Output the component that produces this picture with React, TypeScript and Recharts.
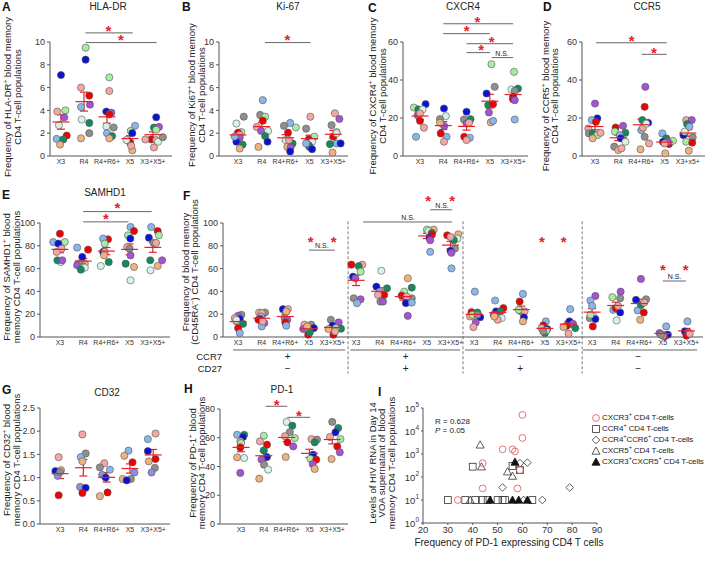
import React from 'react';
import { ScatterChart, Scatter, XAxis, YAxis, ErrorBar, ReferenceLine, ReferenceDot, Legend } from 'recharts';

// [category index, horizontal jitter, value, donor colour key]
type Pt = [number, number, number, string];

const CATS = ['X3', 'R4', 'R4+R6+', 'X5', 'X3+X5+'];
const CATS_D = ['X3', 'R4', 'R4+R6+', 'X5', 'X3+x5+'];
const CATS_F = [...CATS, ...CATS, ...CATS, ...CATS];

const HLA_DR: Pt[] = [
  [0, 0, 7.1, 'bl'], [0, -0.16, 3.9, 'pk'], [0, 0.19, 4.0, 'lg'], [0, 0.14, 3.4, 'pu'], [0, -0.09, 2.7, 'mt'],
  [0, 0.25, 1.8, 'rd'], [0, -0.19, 1.5, 'lb'], [0, 0.1, 1.45, 'dg'], [0, -0.04, 1.0, 'tn'],
  [1, 0.07, 9.5, 'lg'], [1, 0.07, 8.45, 'bl'], [1, -0.13, 6.0, 'pk'], [1, 0.23, 5.3, 'rd'], [1, -0.13, 4.3, 'lb'],
  [1, 0.26, 4.5, 'pu'], [1, -0.1, 3.2, 'mt'], [1, 0.23, 2.9, 'dg'], [1, -0.13, 1.55, 'tn'], [1, 0.23, 2.0, 'gy'],
  [2, 0.1, 6.9, 'lg'], [2, 0.1, 5.7, 'pk'], [2, -0.03, 3.9, 'bl'], [2, 0.19, 3.8, 'pu'], [2, 0.1, 3.65, 'rd'],
  [2, -0.03, 2.6, 'mt'], [2, 0.29, 2.5, 'gy'], [2, 0, 2.0, 'lb'], [2, 0.22, 1.75, 'dg'], [2, 0.1, 1.55, 'tn'],
  [3, 0.22, 2.65, 'lb'], [3, 0.03, 2.2, 'lg'], [3, 0.1, 2.0, 'bl'], [3, -0.12, 1.4, 'pk'], [3, 0, 1.2, 'rd'],
  [3, -0.15, 1.4, 'mt'], [3, 0.1, 0.5, 'tn'], [3, 0.05, 0.9, 'pk'],
  [4, 0.14, 3.4, 'bl'], [4, 0.04, 2.5, 'dg'], [4, 0.26, 2.55, 'pu'], [4, 0.14, 2.3, 'lg'], [4, -0.07, 1.45, 'rd'],
  [4, 0.14, 1.4, 'pk'], [4, 0.22, 1.25, 'mt'], [4, 0.43, 1.65, 'gy'], [4, -0.33, 1.45, 'pk'], [4, 0.04, 0.75, 'pk'],
];

const KI67: Pt[] = [
  [0, 0.24, 3.45, 'gy'], [0, -0.07, 2.85, 'mt'], [0, 0.14, 2.1, 'lg'], [0, 0, 2.05, 'rd'], [0, 0.07, 1.85, 'pk'],
  [0, 0.07, 1.6, 'pu'], [0, -0.07, 1.25, 'bl'], [0, 0.19, 1.0, 'dg'], [0, 0.07, 0.65, 'tn'], [0, -0.14, 1.7, 'lb'],
  [1, 0.04, 4.9, 'lb'], [1, -0.07, 3.6, 'gy'], [1, 0.14, 3.45, 'lg'], [1, 0.04, 3.1, 'rd'], [1, -0.21, 2.55, 'pk'],
  [1, -0.03, 2.2, 'pu'], [1, 0.26, 2.2, 'mt'], [1, 0.14, 1.75, 'dg'], [1, 0.24, 1.25, 'bl'], [1, -0.14, 0.8, 'tn'],
  [2, 0.19, 2.9, 'lb'], [2, -0.07, 2.65, 'gy'], [2, 0.43, 2.5, 'lg'], [2, 0.1, 2.05, 'rd'], [2, 0, 1.4, 'mt'],
  [2, 0.29, 1.1, 'dg'], [2, 0.14, 1.4, 'pk'], [2, 0.07, 0.8, 'tn'], [2, 0.21, 0.75, 'pu'], [2, 0.19, 0.4, 'bl'],
  [3, 0.04, 3.45, 'pk'], [3, -0.14, 2.4, 'gy'], [3, 0.21, 1.7, 'lg'], [3, -0.03, 1.45, 'rd'], [3, 0.11, 1.25, 'mt'],
  [3, -0.03, 0.95, 'pu'], [3, 0, 0.8, 'dg'], [3, 0.11, 0.6, 'bl'], [3, -0.14, 1.1, 'lb'],
  [4, 0.07, 3.75, 'pk'], [4, 0.26, 3.25, 'pu'], [4, -0.07, 2.7, 'gy'], [4, 0.14, 2.1, 'lg'], [4, 0, 1.7, 'rd'],
  [4, 0.14, 1.1, 'lb'], [4, -0.14, 1.05, 'dg'], [4, 0.31, 1.1, 'bl'], [4, -0.03, 0.3, 'tn'], [4, 0.14, 2.0, 'mt'],
];

const CXCR4: Pt[] = [
  [0, 0.24, 27.3, 'bl'], [0, -0.26, 25.5, 'lg'], [0, -0.07, 24.5, 'dg'], [0, 0.11, 24.5, 'mt'], [0, -0.1, 21.5, 'pu'],
  [0, 0, 22.4, 'pk'], [0, 0, 18.5, 'rd'], [0, 0.17, 14.9, 'pk'], [0, -0.17, 10.1, 'lb'],
  [1, 0.03, 25, 'bl'], [1, 0.11, 21, 'mt'], [1, -0.14, 19.4, 'gy'], [1, 0.04, 15.7, 'pu'], [1, 0.14, 10.1, 'lb'],
  [1, -0.11, 11.9, 'rd'], [1, 0.03, 7.5, 'pk'], [1, -0.14, 17.5, 'tn'],
  [2, 0, 23.3, 'bl'], [2, 0.17, 19.4, 'dg'], [2, -0.11, 19.2, 'gy'], [2, 0, 17.1, 'pu'], [2, 0.11, 17.5, 'pk'],
  [2, -0.1, 10.1, 'rd'], [2, 0.14, 9.6, 'lb'], [2, 0, 8.4, 'pk'],
  [3, 0.07, 48.3, 'lg'], [3, 0.21, 36.4, 'gy'], [3, -0.14, 32.9, 'bl'], [3, -0.07, 26.8, 'dg'], [3, 0.14, 27.3, 'rd'],
  [3, -0.04, 22.9, 'pu'], [3, 0.04, 17.7, 'pk'], [3, 0.14, 18.5, 'lb'],
  [4, 0.04, 44.3, 'lg'], [4, -0.07, 35, 'mt'], [4, 0.21, 35.5, 'dg'], [4, 0.07, 34.3, 'gy'], [4, 0, 31.1, 'bl'],
  [4, 0, 29.9, 'rd'], [4, 0.07, 29.4, 'pu'], [4, 0.07, 19.2, 'lb'],
];

const CCR5: Pt[] = [
  [0, 0, 27.6, 'pu'], [0, 0.1, 19.8, 'bl'], [0, -0.14, 18.9, 'lb'], [0, 0.04, 18, 'rd'], [0, -0.29, 14.5, 'pk'],
  [0, -0.26, 11.9, 'gy'], [0, -0.1, 11.9, 'dg'], [0, 0.1, 11, 'lg'], [0, 0.24, 12.2, 'pk'], [0, -0.1, 9.3, 'tn'],
  [1, 0.21, 15.9, 'pu'], [1, -0.11, 15, 'rd'], [1, 0.31, 12.2, 'dg'], [1, -0.14, 12.8, 'lg'], [1, 0.07, 11, 'lb'],
  [1, 0.11, 9.3, 'bl'], [1, -0.17, 4.9, 'gy'], [1, 0.31, 7.5, 'mt'], [1, 0, 3.1, 'tn'], [1, 0.14, 4, 'pk'],
  [2, 0.17, 36.4, 'pu'], [2, 0.14, 25.9, 'rd'], [2, 0.04, 18.9, 'dg'], [2, 0.29, 17.5, 'bl'], [2, 0, 13.6, 'lb'],
  [2, 0.07, 14.9, 'pk'], [2, 0.14, 10.1, 'gy'], [2, 0.33, 6.6, 'pk'], [2, -0.04, 3.5, 'tn'], [2, 0.21, 17, 'mt'],
  [3, -0.1, 11.9, 'lb'], [3, 0.07, 9.3, 'dg'], [3, -0.07, 7.5, 'bl'], [3, 0.19, 6.3, 'rd'], [3, 0.36, 8, 'lg'],
  [3, 0.14, 7.5, 'pu'], [3, 0, 6.6, 'pk'], [3, 0.03, 1.4, 'tn'],
  [4, -0.07, 18.9, 'pk'], [4, 0.17, 18.9, 'pu'], [4, -0.03, 16.8, 'dg'], [4, 0.07, 15.4, 'lb'], [4, -0.19, 11, 'bl'],
  [4, 0.21, 9.8, 'gy'], [4, -0.07, 7.5, 'lg'], [4, 0.19, 7, 'rd'], [4, 0.04, 2.8, 'tn'], [4, -0.14, 12.8, 'mt'],
];

const SAMHD1: Pt[] = [
  [0, 0, 90.6, 'rd'], [0, -0.29, 83.3, 'lb'], [0, 0.21, 83.3, 'lg'], [0, -0.07, 81.9, 'bl'], [0, 0.07, 77.5, 'pk'],
  [0, -0.14, 74.6, 'pk'], [0, 0.04, 65.8, 'mt'], [0, -0.11, 67.3, 'dg'], [0, 0.1, 67.3, 'pu'],
  [1, -0.26, 78.4, 'lb'], [1, 0.21, 76.6, 'rd'], [1, -0.04, 70.2, 'bl'], [1, -0.21, 64.3, 'pk'], [1, 0.07, 64.3, 'tn'],
  [1, -0.26, 62.9, 'pu'], [1, 0, 62, 'gy'], [1, 0.07, 60.8, 'mt'], [1, -0.1, 59.1, 'dg'],
  [2, 0.07, 85.7, 'rd'], [2, -0.14, 86.3, 'lb'], [2, -0.07, 81.9, 'lg'], [2, -0.14, 74.6, 'bl'], [2, -0.07, 74.6, 'pk'],
  [2, -0.1, 71.6, 'tn'], [2, 0.1, 65.8, 'dg'], [2, -0.24, 62.3, 'mt'],
  [3, 0.04, 96.5, 'lb'], [3, 0.19, 93, 'rd'], [3, -0.07, 89.2, 'lg'], [3, 0.03, 86.3, 'bl'], [3, -0.1, 78.9, 'pk'],
  [3, 0, 77.5, 'gy'], [3, 0.04, 71.6, 'pu'], [3, -0.17, 64.3, 'dg'], [3, 0.19, 61.4, 'tn'], [3, 0.04, 49.7, 'mt'],
  [4, -0.07, 96.5, 'lb'], [4, 0.21, 93, 'rd'], [4, -0.17, 87.1, 'bl'], [4, 0.26, 89.2, 'lg'], [4, 0.03, 82.5, 'gy'],
  [4, 0.14, 82.5, 'pk'], [4, -0.11, 67.3, 'dg'], [4, 0.4, 67.3, 'pu'], [4, 0.21, 62.3, 'tn'], [4, -0.1, 58.5, 'mt'],
];

// CD45RA- subsets: four groups of five (CCR7/CD27 +-, ++, -+, --)
const SUBSETS: Pt[] = [
  [0, 0.14, 19.5, 'gy'], [0, 0, 18.6, 'pu'], [0, -0.14, 16.6, 'pk'], [0, 0.07, 15.7, 'bl'], [0, 0.21, 11.6, 'dg'],
  [0, -0.07, 13.7, 'tn'], [0, 0, 7.8, 'rd'], [0, 0.07, 3.5, 'lb'], [0, -0.07, 15, 'mt'],
  [1, -0.11, 21.5, 'pk'], [1, 0.14, 21.5, 'gy'], [1, 0, 21, 'tn'], [1, -0.03, 18, 'lb'], [1, -0.07, 15.7, 'bl'],
  [1, -0.14, 15.1, 'rd'], [1, 0.11, 12.2, 'pu'], [1, 0, 9.3, 'lb'], [1, 0.04, 13.7, 'pk'],
  [2, -0.1, 24.4, 'bl'], [2, 0.11, 24.4, 'pk'], [2, 0.04, 22.4, 'tn'], [2, -0.03, 16.6, 'gy'], [2, 0.08, 15.1, 'pu'],
  [2, 0, 12.8, 'rd'], [2, 0.04, 9.9, 'lb'],
  [3, -0.19, 10.8, 'pk'], [3, 0.1, 10.8, 'gy'], [3, 0.21, 7.8, 'bl'], [3, -0.24, 7, 'pu'], [3, 0, 5.8, 'lg'],
  [3, -0.03, 2, 'rd'], [3, 0.04, 4.1, 'dg'], [3, -0.07, 9.3, 'tn'],
  [4, -0.07, 15.1, 'gy'], [4, 0.26, 12.8, 'pu'], [4, 0, 9.9, 'bl'], [4, 0.36, 7.3, 'dg'], [4, -0.17, 7, 'tn'],
  [4, 0.14, 7.8, 'lg'], [4, 0.04, 2, 'rd'], [4, 0.11, 4.9, 'pk'],
  [5, -0.2, 63.4, 'rd'], [5, 0.26, 63.4, 'pk'], [5, 0.11, 62.2, 'dg'], [5, 0.19, 57.3, 'lg'], [5, -0.13, 52.9, 'bl'],
  [5, -0.03, 51.5, 'pu'], [5, -0.1, 34, 'gy'], [5, 0.19, 33.1, 'pu'], [5, 0.04, 29.7, 'lb'],
  [6, 0.07, 58.1, 'mt'], [6, -0.14, 44.2, 'bl'], [6, 0.31, 42.7, 'dg'], [6, 0, 39.8, 'lb'], [6, 0.19, 36.9, 'rd'],
  [6, -0.07, 36.9, 'pk'], [6, 0.03, 31.1, 'gy'], [6, 0.14, 31.1, 'pu'],
  [7, 0.19, 51.5, 'tn'], [7, 0.36, 43.3, 'dg'], [7, 0.04, 39.8, 'lg'], [7, -0.07, 36.3, 'rd'], [7, 0.36, 34, 'gy'],
  [7, 0.14, 35.5, 'pk'], [7, 0.11, 29.7, 'bl'], [7, 0.36, 30.2, 'lb'], [7, 0.19, 18.6, 'pu'],
  [8, 0, 94.2, 'lg'], [8, 0.29, 94.2, 'tn'], [8, 0.07, 93, 'mt'], [8, 0.21, 91.3, 'dg'], [8, 0.21, 89.8, 'rd'],
  [8, 0.11, 87.2, 'bl'], [8, 0.14, 84.9, 'pu'], [8, 0.14, 74.7, 'lb'],
  [9, -0.14, 89.2, 'rd'], [9, 0.33, 90.1, 'tn'], [9, 0.29, 86.3, 'mt'], [9, 0.14, 84.9, 'dg'], [9, 0.19, 77.6, 'gy'],
  [9, 0, 75.6, 'bl'], [9, 0.04, 73.8, 'pu'], [9, 0.04, 60.2, 'lb'], [9, 0, 87.8, 'pk'],
  [10, 0.03, 39.8, 'lb'], [10, -0.11, 21.8, 'rd'], [10, 0.14, 21.5, 'dg'], [10, -0.17, 18, 'tn'], [10, 0.26, 17.4, 'bl'],
  [10, 0.07, 12.8, 'pu'], [10, -0.03, 8.7, 'pk'], [10, -0.07, 19.5, 'lg'], [10, 0.14, 19.5, 'gy'],
  [11, -0.11, 32, 'lb'], [11, 0.24, 25.3, 'rd'], [11, -0.07, 22.4, 'bl'], [11, 0.11, 22.4, 'dg'], [11, -0.17, 19.5, 'pu'],
  [11, 0.17, 16.6, 'mt'], [11, 0, 15.1, 'pk'], [11, -0.14, 18, 'tn'],
  [12, 0.07, 37.8, 'lb'], [12, -0.07, 31.1, 'rd'], [12, 0, 22.4, 'gy'], [12, 0.14, 22.4, 'pk'], [12, 0.11, 17.2, 'bl'],
  [12, 0.07, 13.7, 'tn'], [12, -0.11, 23.8, 'lg'],
  [13, 0.04, 13.7, 'lb'], [13, -0.07, 10.2, 'rd'], [13, -0.14, 7.8, 'pk'], [13, 0.1, 7, 'bl'], [13, 0, 3.5, 'dg'],
  [13, 0.07, 5.8, 'lg'], [13, -0.07, 4.9, 'gy'],
  [14, 0.07, 24.4, 'lb'], [14, 0.04, 13.7, 'bl'], [14, 0.19, 11.6, 'pu'], [14, -0.07, 9.9, 'rd'], [14, 0.29, 7.8, 'dg'],
  [14, -0.21, 8.7, 'tn'], [14, 0, 2.9, 'pk'],
  [15, 0.14, 36, 'pu'], [15, -0.07, 32, 'lb'], [15, 0, 27.3, 'lb'], [15, 0.07, 18, 'mt'], [15, -0.1, 16.6, 'gy'],
  [15, 0.14, 15.7, 'bl'], [15, 0.03, 9.3, 'rd'], [15, -0.07, 19.5, 'lg'],
  [16, 0.21, 39.8, 'pu'], [16, -0.14, 34.9, 'lg'], [16, 0.19, 34, 'gy'], [16, -0.1, 23.8, 'lb'], [16, 0, 25.3, 'rd'],
  [16, 0.19, 21.5, 'bl'], [16, 0.04, 14.5, 'mt'], [16, 0.1, 27.3, 'pk'],
  [17, 0.07, 50.9, 'pu'], [17, -0.14, 32.6, 'bl'], [17, 0.29, 33.1, 'gy'], [17, -0.07, 23.3, 'lb'], [17, 0.19, 21.5, 'rd'],
  [17, 0.04, 15.1, 'tn'], [17, 0.07, 28.2, 'dg'], [17, 0.21, 30.2, 'pk'],
  [18, 0.14, 9.3, 'lb'], [18, -0.14, 3.5, 'pu'], [18, 0.21, 2, 'bl'], [18, 0.07, 0.6, 'rd'], [18, 0, 1.2, 'pk'],
  [18, -0.07, 2, 'gy'],
  [19, 0.04, 13.7, 'lb'], [19, -0.07, 4.9, 'bl'], [19, 0.07, 4.1, 'pu'], [19, 0, 1.2, 'rd'], [19, 0.14, 2.9, 'pk'],
];

const CD32: Pt[] = [
  [0, -0.06, 1.44, 'pk'], [0, -0.2, 1.14, 'bl'], [0, 0.04, 1.16, 'tn'], [0, -0.1, 1.04, 'pw'], [0, -0.06, 0.62, 'rd'],
  [0, 0, 1.12, 'gy'],
  [1, -0.04, 1.93, 'pk'], [1, 0.1, 1.52, 'gy'], [1, -0.11, 1.44, 'lb'], [1, -0.04, 1.35, 'tn'], [1, -0.14, 0.8, 'pw'],
  [1, 0.1, 0.78, 'bl'], [1, -0.04, 0.67, 'rd'],
  [2, -0.1, 1.31, 'pk'], [2, -0.29, 1.22, 'gy'], [2, 0.14, 1.17, 'lb'], [2, -0.19, 1.06, 'pw'], [2, -0.04, 1.0, 'bl'],
  [2, -0.29, 0.6, 'tn'], [2, 0.04, 0.68, 'rd'],
  [3, -0.06, 1.58, 'lb'], [3, -0.24, 1.47, 'tn'], [3, 0.11, 1.33, 'rd'], [3, 0.19, 1.11, 'pw'], [3, -0.31, 0.97, 'tn'],
  [3, 0.04, 0.97, 'gy'], [3, -0.14, 0.94, 'bl'],
  [4, 0.1, 1.95, 'pk'], [4, -0.23, 1.83, 'lb'], [4, -0.23, 1.57, 'bl'], [4, -0.19, 1.35, 'tn'], [4, 0.1, 1.4, 'rd'],
  [4, 0.07, 1.21, 'gy'], [4, -0.07, 1.11, 'pw'],
];

const PD1: Pt[] = [
  [0, -0.17, 62.1, 'lb'], [0, 0.14, 62.1, 'dg'], [0, 0.09, 60.5, 'bl'], [0, -0.03, 57.5, 'pk'], [0, 0, 56.3, 'lg'],
  [0, -0.03, 53.3, 'rd'], [0, -0.17, 46.4, 'tn'], [0, 0.14, 45.9, 'mt'], [0, -0.03, 35.5, 'pu'],
  [1, 0, 61.4, 'lg'], [1, -0.17, 57.5, 'pk'], [1, 0.14, 55.2, 'rd'], [1, 0, 51.2, 'dg'], [1, 0.14, 46.6, 'bl'],
  [1, -0.1, 44.8, 'pu'], [1, 0.01, 41.3, 'gy'], [1, 0.19, 37.8, 'mt'], [1, -0.2, 31.5, 'tn'],
  [2, 0, 71, 'mt'], [2, 0.25, 68.4, 'dg'], [2, 0.14, 64, 'gy'], [2, -0.07, 61, 'pk'], [2, 0.36, 59.8, 'lg'],
  [2, 0.04, 56.8, 'rd'], [2, 0.29, 54, 'pu'], [2, -0.04, 46.6, 'tn'],
  [3, 0.09, 59.1, 'pk'], [3, 0.33, 58.7, 'gy'], [3, 0.23, 56.8, 'dg'], [3, 0.16, 48.2, 'bl'], [3, 0.04, 45.4, 'lg'],
  [3, 0.3, 44.8, 'rd'], [3, 0.14, 41.7, 'pu'], [3, 0.23, 38.3, 'tn'],
  [4, 0, 71, 'gy'], [4, 0.26, 66.8, 'dg'], [4, 0.14, 63.8, 'bl'], [4, -0.1, 60.5, 'pk'], [4, 0.36, 59.1, 'lg'],
  [4, 0.22, 54, 'rd'], [4, 0.33, 49.9, 'pu'], [4, -0.03, 45.2, 'tn'],
];

// panel I: [PD-1 %, HIV RNA]
const VOA_CXCR3 = [[34, 10], [44, 400], [44, 32], [52, 1600], [56, 1600], [57, 1300], [60, 50000], [60, 5000], [58, 32], [59, 200]];
const VOA_CCR4 = [[30, 10], [37, 10], [41, 10], [44, 10], [46, 10], [50, 10], [52, 10], [53, 10], [64, 10], [40, 280], [56, 300], [59, 200]];
const VOA_CCR4CCR6 = [[52, 35], [59, 400], [62, 420], [79, 35], [60.5, 10], [68, 10]];
const VOA_CXCR5 = [[43, 2500], [43.5, 280], [54, 170], [56, 110], [39, 10]];
const VOA_CXCR3CXCR5 = [[47, 10], [56, 10], [58.5, 10], [62, 10], [57, 450]];

const DONOR: Record<string, string> = {
  bl: '#0A12D6', lb: '#8AB6EA', rd: '#F00000', pk: '#F4A6A2', lg: '#A8EBA4', dg: '#128A5E',
  pu: '#A353D3', gy: '#8F8F8F', tn: '#EEB27F', mt: '#D6F3E6', pw: '#8E8EE2',
};

const AX = '#555';
const RED = '#E8202A';
const FONT = '"Liberation Sans", Arial, Helvetica, sans-serif';

// [x1, y1, x2, y2, dashed]
type Seg = [number, number, number, number, boolean?];
// [x, y, text, kind]
type Note = [number, number, string, string];

function NoteText({ cx, cy, t, kind }: any) {
  if (kind === 's')
    return <text x={cx} y={cy + 8.5} textAnchor="middle" fontSize={15} fontWeight="bold" fill={RED}>*</text>;
  if (kind === 'ns')
    return <text x={cx} y={cy + 2.5} textAnchor="middle" fontSize={7} fill="#222">{t}</text>;
  if (kind === 'lbl')
    return <text x={cx} y={cy + 3.5} textAnchor="end" fontSize={9.5} fill="#222">{t}</text>;
  return <text x={cx} y={cy + 3.5} textAnchor="middle" fontSize={10} fill="#222">{t}</text>;
}

const Dot = (p: any) => (
  <circle cx={p.cx} cy={p.cy} r={3.6} fill={DONOR[p.payload.d]} stroke="#555" strokeWidth={0.6} />
);
const MeanTick = (p: any) => (
  <line x1={p.cx - 8.5} x2={p.cx + 8.5} y1={p.cy} y2={p.cy} stroke={RED} strokeWidth={1.2} />
);

function DotPanel({ box, xDomain, yDomain, yTicks, yFmt, cats, pts, segs = [], notes = [] }: any) {
  const [left, top, width, height, mt, mb] = box;
  const dots = pts.map(([c, dx, v, d]: Pt) => ({ x: c + dx, y: v, d }));
  const means = cats.map((_: string, i: number) => {
    const vs = pts.filter((p: Pt) => p[0] === i).map((p: Pt) => p[2]);
    const m = vs.reduce((a: number, b: number) => a + b, 0) / vs.length;
    const sd = Math.sqrt(vs.reduce((a: number, b: number) => a + (b - m) ** 2, 0) / (vs.length - 1));
    return { x: i, y: m, err: sd / Math.sqrt(vs.length) };
  });
  return (
    <div style={{ position: 'absolute', left, top }}>
      <ScatterChart width={width} height={height} margin={{ top: mt, right: 0, bottom: mb, left: 0 }}>
        <XAxis
          type="number" dataKey="x" domain={xDomain} ticks={cats.map((_: string, i: number) => i)}
          tickFormatter={(v: number) => cats[v]} interval={0} tickLine={false} tickSize={2} tickMargin={1}
          height={14} axisLine={{ stroke: AX }} tick={{ fontSize: 7, fill: '#333' }}
        />
        <YAxis
          type="number" dataKey="y" domain={yDomain} ticks={yTicks} interval={0} width={30}
          tickSize={3} tickMargin={2} tickFormatter={yFmt} axisLine={{ stroke: AX }}
          tickLine={{ stroke: AX }} tick={{ fontSize: 9, fill: '#333' }}
        />
        <Scatter data={dots} shape={Dot} isAnimationActive={false} />
        <Scatter data={means} shape={MeanTick} isAnimationActive={false}>
          <ErrorBar dataKey="err" direction="y" width={4} stroke={RED} strokeWidth={1.2} />
        </Scatter>
        {segs.map((s: Seg, i: number) => (
          <ReferenceLine
            key={'s' + i} ifOverflow="visible" segment={[{ x: s[0], y: s[1] }, { x: s[2], y: s[3] }]}
            stroke={s[4] ? '#777' : '#666'} strokeWidth={1} strokeDasharray={s[4] ? '3 2' : undefined}
          />
        ))}
        {notes.map((n: Note, i: number) => (
          <ReferenceDot
            key={'n' + i} x={n[0]} y={n[1]} r={0} ifOverflow="visible"
            shape={(p: any) => <NoteText cx={p.cx} cy={p.cy} t={n[2]} kind={n[3]} />}
          />
        ))}
      </ScatterChart>
    </div>
  );
}

function Sym({ k, cx, cy }: any) {
  if (k === 'c') return <circle cx={cx} cy={cy} r={3.4} fill="none" stroke="#E36262" strokeWidth={0.9} />;
  if (k === 'q') return <rect x={cx - 3.4} y={cy - 3.4} width={6.8} height={6.8} fill="none" stroke="#333" strokeWidth={0.8} />;
  if (k === 'd')
    return <polygon points={`${cx},${cy - 3.8} ${cx + 3.8},${cy} ${cx},${cy + 3.8} ${cx - 3.8},${cy}`} fill="none" stroke="#333" strokeWidth={0.8} />;
  const pts = `${cx},${cy - 4} ${cx + 4},${cy + 3.2} ${cx - 4},${cy + 3.2}`;
  if (k === 't') return <polygon points={pts} fill="none" stroke="#333" strokeWidth={0.8} />;
  return <polygon points={pts} fill="#111" stroke="#111" strokeWidth={0.8} />;
}

const LEGEND_ROWS = [
  ['c', 'CXCR3^+^ CD4 T-cells'],
  ['q', 'CCR4^+^ CD4 T-cells'],
  ['d', 'CCR4^+^CCR6^+^ CD4 T-cells'],
  ['t', 'CXCR5^+^ CD4 T-cells'],
  ['f', 'CXCR3^+^CXCR5^+^ CD4 T-cells'],
];

const supHtml = (s: string) =>
  s.split('^').map((part, i) =>
    i % 2 ? <sup key={i} style={{ fontSize: 5.5, lineHeight: 0 }}>{part}</sup> : <span key={i}>{part}</span>,
  );

const VoaLegend = () => (
  <div style={{ fontSize: 8, lineHeight: '11px', color: '#222', whiteSpace: 'nowrap', fontFamily: FONT, letterSpacing: -0.1 }}>
    {LEGEND_ROWS.map(([k, name]) => (
      <div key={k} style={{ display: 'flex', alignItems: 'center', height: 11 }}>
        <svg width={10} height={10} style={{ flexShrink: 0, marginRight: 1 }}><Sym k={k} cx={5} cy={5} /></svg>
        <span style={{ flexShrink: 0 }}>{supHtml(name)}</span>
      </div>
    ))}
  </div>
);

const LogTick = (p: any) => {
  const e = Math.round(Math.log10(p.payload.value));
  return (
    <text x={p.x} y={p.y} dy={4} textAnchor="end" fontSize={9.5} fill="#333">
      10<tspan dy={-5} fontSize={6.5}>{e}</tspan>
    </text>
  );
};

function VoaPanel() {
  const xy = (a: number[][]) => a.map(([x, y]) => ({ x, y }));
  return (
    <div style={{ position: 'absolute', left: 393, top: 380 }}>
      <ScatterChart width={315} height={185} margin={{ top: 28, right: 111, bottom: 26, left: 0 }}>
        <XAxis
          type="number" dataKey="x" domain={[20, 90]} ticks={[20, 30, 40, 50, 60, 70, 80, 90]} interval={0}
          height={16} tickSize={2} tickMargin={1} axisLine={{ stroke: AX }} tickLine={{ stroke: AX }}
          tick={{ fontSize: 9.5, fill: '#333' }}
        />
        <YAxis
          type="number" dataKey="y" scale="log" domain={[1, 100000]} ticks={[1, 10, 100, 1000, 10000, 100000]}
          interval={0} width={30} tickSize={2} tickMargin={2} axisLine={{ stroke: AX }} tickLine={{ stroke: AX }}
          tick={LogTick}
        />
        <Scatter data={xy(VOA_CCR4)} shape={(p: any) => <Sym k="q" cx={p.cx} cy={p.cy} />} isAnimationActive={false} />
        <Scatter data={xy(VOA_CCR4CCR6)} shape={(p: any) => <Sym k="d" cx={p.cx} cy={p.cy} />} isAnimationActive={false} />
        <Scatter data={xy(VOA_CXCR5)} shape={(p: any) => <Sym k="t" cx={p.cx} cy={p.cy} />} isAnimationActive={false} />
        <Scatter data={xy(VOA_CXCR3CXCR5)} shape={(p: any) => <Sym k="f" cx={p.cx} cy={p.cy} />} isAnimationActive={false} />
        <Scatter data={xy(VOA_CXCR3)} shape={(p: any) => <Sym k="c" cx={p.cx} cy={p.cy} />} isAnimationActive={false} />
        <Legend
          content={<VoaLegend />} layout="horizontal" align="center" verticalAlign="middle"
          wrapperStyle={{ left: 198, top: 32, width: 117, height: 56 }}
        />
      </ScatterChart>
    </div>
  );
}

const LETTERS: [string, number, number][] = [
  ['A', 2, 11], ['B', 182, 11], ['C', 368, 12], ['D', 543, 11], ['E', 2, 199],
  ['F', 183, 200], ['G', 2, 394], ['H', 184, 393], ['I', 378, 396],
];
const TITLES: [string, number, number][] = [
  ['HLA-DR', 108, 10], ['Ki-67', 288, 10], ['CXCR4', 463, 10], ['CCR5', 647, 10],
  ['SAMHD1', 105, 196], ['CD32', 107, 396], ['PD-1', 282, 393],
];
const YLABELS: { xs: number[]; y: number; lines: string[] }[] = [
  { xs: [11, 21], y: 97, lines: ['Frequency of HLA-DR^+^ blood memory', 'CD4 T-cell populations'] },
  { xs: [195, 205], y: 95, lines: ['Frequency of Ki67^+^ blood memory', 'CD4 T-cell populations'] },
  { xs: [376, 386], y: 96, lines: ['Frequency of CXCR4^+^ blood memory', 'CD4 T-cell populations'] },
  { xs: [549, 558], y: 96, lines: ['Frequency of CCR5^+^ blood memory', 'CD4 T-cell populations'] },
  { xs: [10, 20], y: 277, lines: ['Frequency of SAMHD1^+^ blood', 'memory CD4 T-cell populations'] },
  { xs: [189, 198], y: 272, lines: ['Frequency of blood memory', '(CD45RA^−^) CD4 T-cell populations'] },
  { xs: [10, 20], y: 460, lines: ['Frequency of CD32^+^ blood', 'memory CD4 T-cell populations'] },
  { xs: [196, 205], y: 463, lines: ['Frequency of PD-1^+^ blood', 'memory CD4 T-cell populations'] },
  { xs: [376, 385, 395], y: 463, lines: ['Levels of HIV RNA in Day 14', 'VOA supernatant of blood', 'memory CD4 T-cell populations'] },
];

const supSvg = (s: string) =>
  s.split('^').map((part, i) =>
    i % 2 ? (
      <tspan key={i} dy={-3.5} fontSize={6.5}>{part}</tspan>
    ) : (
      <tspan key={i} dy={i ? 3.5 : 0}>{part}</tspan>
    ),
  );

function Overlay() {
  return (
    <svg width={708} height={565} style={{ position: 'absolute', left: 0, top: 0, pointerEvents: 'none', fontFamily: FONT }}>
      {LETTERS.map(([t, x, y]) => (
        <text key={t} x={x} y={y} fontSize={12} fontWeight="bold" fill="#111">{t}</text>
      ))}
      {TITLES.map(([t, x, y]) => (
        <text key={t} x={x} y={y} fontSize={10} textAnchor="middle" fill="#222">{t}</text>
      ))}
      {YLABELS.map((l, i) =>
        l.lines.map((line, j) => (
          <text key={i + '-' + j} transform={`translate(${l.xs[j]},${l.y}) rotate(-90)`} textAnchor="middle" fontSize={9.5} fill="#222">
            {supSvg(line)}
          </text>
        )),
      )}
      <text x={435} y={424} fontSize={8} fill="#222">R = 0.628</text>
      <text x={435} y={433} fontSize={8} fill="#222"><tspan fontStyle="italic">P</tspan> = 0.05</text>
      <text x={509} y={546} fontSize={10} textAnchor="middle" fill="#222">Frequency of PD-1 expressing CD4 T cells</text>
    </svg>
  );
}

export default function App() {
  return (
    <div style={{ position: 'absolute', left: 0, top: 0, width: 708, height: 565, background: '#fff', fontFamily: FONT, overflow: 'hidden' }}>
      <DotPanel
        box={[20, 0, 152, 175, 42, 5]} xDomain={[-0.478, 4.826]} yDomain={[0, 10]} yTicks={[0, 2, 4, 6, 8, 10]}
        cats={CATS} pts={HLA_DR}
        segs={[[1.07, 10.8, 3.12, 10.8], [1.07, 9.95, 4.16, 9.95]]}
        notes={[[2.06, 11.3, '*', 's'], [2.6, 10.45, '*', 's']]}
      />
      <DotPanel
        box={[189, 0, 159, 175, 42, 5]} xDomain={[-0.8, 4.62]} yDomain={[0, 10]} yTicks={[0, 2, 4, 6, 8, 10]}
        cats={CATS} pts={KI67}
        segs={[[1.13, 9.95, 3.05, 9.95]]}
        notes={[[2.07, 10.45, '*', 's']]}
      />
      <DotPanel
        box={[373, 0, 155, 175, 42, 5]} xDomain={[-0.73, 4.64]} yDomain={[0, 60]} yTicks={[0, 20, 40, 60]}
        cats={CATS} pts={CXCR4}
        segs={[[1, 69.6, 4, 69.6], [1, 64.4, 3, 64.4], [2, 59.1, 4, 59.1], [2, 54.4, 3, 54.4], [3.08, 51.8, 4, 51.8]]}
        notes={[[2.47, 72.2, '*', 's'], [2, 67.5, '*', 's'], [3.08, 61.7, '*', 's'], [2.63, 57.4, '*', 's'], [3.53, 54.2, 'N.S.', 'ns']]}
      />
      <DotPanel
        box={[552, 0, 153, 175, 42, 5]} xDomain={[-0.56, 4.74]} yDomain={[0, 60]} yTicks={[0, 20, 40, 60]}
        cats={CATS_D} pts={CCR5}
        segs={[[0.04, 59.6, 3.09, 59.6], [2.01, 53.5, 3.09, 53.5]]}
        notes={[[1.58, 62.6, '*', 's'], [2.54, 56, '*', 's']]}
      />
      <DotPanel
        box={[10, 180, 160, 176, 43, 5]} xDomain={[-0.86, 4.74]} yDomain={[0, 100]} yTicks={[0, 20, 40, 60, 80, 100]}
        cats={CATS} pts={SAMHD1}
        segs={[[1, 110, 3.95, 110], [1, 101, 2.95, 101]]}
        notes={[[2.47, 116.5, '*', 's'], [1.98, 106.5, '*', 's']]}
      />
      <DotPanel
        box={[193, 185, 510, 192, 38, 26]} xDomain={[-0.64, 19.7]} yDomain={[0, 100]} yTicks={[0, 20, 40, 60, 80, 100]}
        cats={CATS_F} pts={SUBSETS}
        segs={[
          [4.66, 101.5, 4.66, -32, true], [9.53, 101.5, 9.53, -32, true], [14.58, 101.5, 14.58, -32, true],
          [-0.21, -11.4, 4.53, -11.4], [4.75, -11.4, 9.4, -11.4], [9.62, -11.4, 14.4, -11.4], [14.6, -11.4, 19.45, -11.4],
          [3, 76.2, 4.1, 76.2], [5.3, 100.9, 9.07, 100.9], [8.14, 111.6, 9.07, 111.6], [18, 49.1, 18.98, 49.1],
        ]}
        notes={[
          [3.08, 86.3, '*', 's'], [4.05, 86.3, '*', 's'], [3.55, 80.5, 'N.S.', 'ns'],
          [8.05, 122.7, '*', 's'], [9.07, 122.7, '*', 's'], [7.2, 104.6, 'N.S.', 'ns'], [8.64, 115, 'N.S.', 'ns'],
          [12.87, 86.3, '*', 's'], [13.8, 86.3, '*', 's'],
          [18, 62.2, '*', 's'], [18.97, 62.2, '*', 's'], [18.5, 52.9, 'N.S.', 'ns'],
          [-0.68, -16.7, 'CCR7', 'lbl'], [-0.68, -27.2, 'CD27', 'lbl'],
          [2.1, -16.7, '+', 'sign'], [2.1, -27.2, '−', 'sign'],
          [7.1, -16.7, '+', 'sign'], [7.1, -27.2, '+', 'sign'],
          [11.95, -16.7, '−', 'sign'], [11.95, -27.2, '+', 'sign'],
          [16.95, -16.7, '−', 'sign'], [16.95, -27.2, '−', 'sign'],
        ]}
      />
      <DotPanel
        box={[10, 380, 160, 164, 28, 6]} xDomain={[-0.86, 4.72]} yDomain={[0, 2.5]} yTicks={[0, 0.5, 1, 1.5, 2, 2.5]}
        yFmt={(v: number) => v.toFixed(1)} cats={CATS} pts={CD32}
      />
      <DotPanel
        box={[190, 380, 158, 163, 29, 5]} xDomain={[-0.92, 4.69]} yDomain={[0, 80]} yTicks={[0, 20, 40, 60, 80]}
        cats={CATS} pts={PD1}
        segs={[[1.08, 81.9, 2.03, 81.9], [2.03, 74.2, 3.03, 74.2]]}
        notes={[[1.56, 85.5, '*', 's'], [2.54, 77.9, '*', 's']]}
      />
      <VoaPanel />
      <Overlay />
    </div>
  );
}
